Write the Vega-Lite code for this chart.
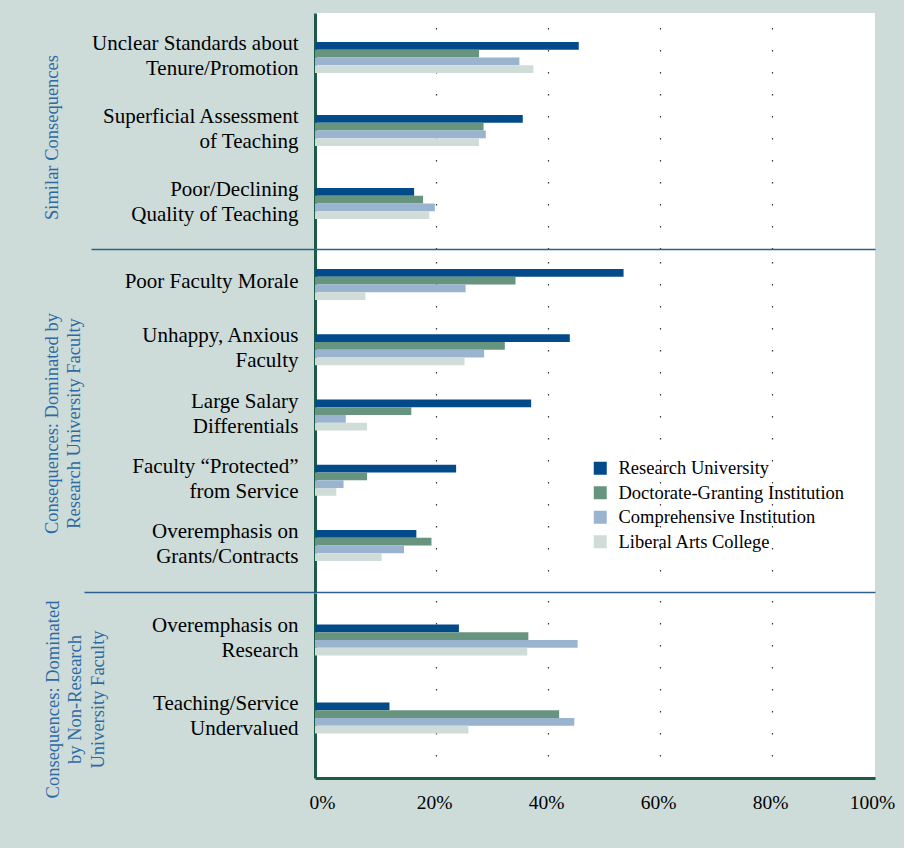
{
  "$schema": "https://vega.github.io/schema/vega-lite/v6.json",
  "background": "#cddcd9",
  "padding": {"left": 42, "top": 13, "right": 9, "bottom": 36},
  "config": {"view": {"stroke": null, "fill": "white"}, "font": "Liberation Serif"},
  "spacing": 0,
  "bounds": "flush",
  "data": {"values": [
    {"section": 1, "consequence": "Unclear Standards about\nTenure/Promotion", "type": "Research University", "pct": 47.1},
    {"section": 1, "consequence": "Unclear Standards about\nTenure/Promotion", "type": "Doctorate-Granting Institution", "pct": 29.3},
    {"section": 1, "consequence": "Unclear Standards about\nTenure/Promotion", "type": "Comprehensive Institution", "pct": 36.5},
    {"section": 1, "consequence": "Unclear Standards about\nTenure/Promotion", "type": "Liberal Arts College", "pct": 39.0},
    {"section": 1, "consequence": "Superficial Assessment\nof Teaching", "type": "Research University", "pct": 37.1},
    {"section": 1, "consequence": "Superficial Assessment\nof Teaching", "type": "Doctorate-Granting Institution", "pct": 30.1},
    {"section": 1, "consequence": "Superficial Assessment\nof Teaching", "type": "Comprehensive Institution", "pct": 30.5},
    {"section": 1, "consequence": "Superficial Assessment\nof Teaching", "type": "Liberal Arts College", "pct": 29.3},
    {"section": 1, "consequence": "Poor/Declining\nQuality of Teaching", "type": "Research University", "pct": 17.7},
    {"section": 1, "consequence": "Poor/Declining\nQuality of Teaching", "type": "Doctorate-Granting Institution", "pct": 19.3},
    {"section": 1, "consequence": "Poor/Declining\nQuality of Teaching", "type": "Comprehensive Institution", "pct": 21.4},
    {"section": 1, "consequence": "Poor/Declining\nQuality of Teaching", "type": "Liberal Arts College", "pct": 20.4},
    {"section": 2, "consequence": "Poor Faculty Morale", "type": "Research University", "pct": 55.1},
    {"section": 2, "consequence": "Poor Faculty Morale", "type": "Doctorate-Granting Institution", "pct": 35.8},
    {"section": 2, "consequence": "Poor Faculty Morale", "type": "Comprehensive Institution", "pct": 26.9},
    {"section": 2, "consequence": "Poor Faculty Morale", "type": "Liberal Arts College", "pct": 9.0},
    {"section": 2, "consequence": "Unhappy, Anxious\nFaculty", "type": "Research University", "pct": 45.5},
    {"section": 2, "consequence": "Unhappy, Anxious\nFaculty", "type": "Doctorate-Granting Institution", "pct": 33.9},
    {"section": 2, "consequence": "Unhappy, Anxious\nFaculty", "type": "Comprehensive Institution", "pct": 30.2},
    {"section": 2, "consequence": "Unhappy, Anxious\nFaculty", "type": "Liberal Arts College", "pct": 26.7},
    {"section": 2, "consequence": "Large Salary\nDifferentials", "type": "Research University", "pct": 38.6},
    {"section": 2, "consequence": "Large Salary\nDifferentials", "type": "Doctorate-Granting Institution", "pct": 17.2},
    {"section": 2, "consequence": "Large Salary\nDifferentials", "type": "Comprehensive Institution", "pct": 5.5},
    {"section": 2, "consequence": "Large Salary\nDifferentials", "type": "Liberal Arts College", "pct": 9.3},
    {"section": 2, "consequence": "Faculty “Protected”\nfrom Service", "type": "Research University", "pct": 25.2},
    {"section": 2, "consequence": "Faculty “Protected”\nfrom Service", "type": "Doctorate-Granting Institution", "pct": 9.3},
    {"section": 2, "consequence": "Faculty “Protected”\nfrom Service", "type": "Comprehensive Institution", "pct": 5.1},
    {"section": 2, "consequence": "Faculty “Protected”\nfrom Service", "type": "Liberal Arts College", "pct": 3.8},
    {"section": 2, "consequence": "Overemphasis on\nGrants/Contracts", "type": "Research University", "pct": 18.1},
    {"section": 2, "consequence": "Overemphasis on\nGrants/Contracts", "type": "Doctorate-Granting Institution", "pct": 20.8},
    {"section": 2, "consequence": "Overemphasis on\nGrants/Contracts", "type": "Comprehensive Institution", "pct": 15.9},
    {"section": 2, "consequence": "Overemphasis on\nGrants/Contracts", "type": "Liberal Arts College", "pct": 11.9},
    {"section": 3, "consequence": "Overemphasis on\nResearch", "type": "Research University", "pct": 25.7},
    {"section": 3, "consequence": "Overemphasis on\nResearch", "type": "Doctorate-Granting Institution", "pct": 38.1},
    {"section": 3, "consequence": "Overemphasis on\nResearch", "type": "Comprehensive Institution", "pct": 46.9},
    {"section": 3, "consequence": "Overemphasis on\nResearch", "type": "Liberal Arts College", "pct": 37.9},
    {"section": 3, "consequence": "Teaching/Service\nUndervalued", "type": "Research University", "pct": 13.3},
    {"section": 3, "consequence": "Teaching/Service\nUndervalued", "type": "Doctorate-Granting Institution", "pct": 43.6},
    {"section": 3, "consequence": "Teaching/Service\nUndervalued", "type": "Comprehensive Institution", "pct": 46.3},
    {"section": 3, "consequence": "Teaching/Service\nUndervalued", "type": "Liberal Arts College", "pct": 27.4}
  ]},
  "resolve": {"scale": {"y": "independent", "yOffset": "independent", "x": "independent", "color": "shared"}},
  "vconcat": [
    {
      "width": 560, "height": 236,
      "transform": [{"filter": "datum.section == 1"}],
      "mark": {"type": "bar"},
      "encoding": {
        "y": {"field": "consequence", "type": "nominal", "sort": null,
          "scale": {"paddingInner": 0.575, "paddingOuter": 0.404, "align": 0.49, "round": false},
          "axis": {"title": "Similar Consequences", "titleAngle": 270, "titleX": -258, "titleY": 124, "titleAlign": "center", "titleBaseline": "alphabetic", "titleFont": "Liberation Serif", "titleFontSize": 18.5, "titleFontWeight": "normal", "titleColor": "#2d6aa3", "titleLineHeight": 22.5,
            "labelExpr": "split(datum.label, '\\n')", "labelFont": "Liberation Serif", "labelFontSize": 21, "labelLineHeight": 25, "labelColor": "black", "labelLimit": 0, "labelPadding": 17,
            "labelOffset": {"condition": {"test": "indexof(datum.value, '\\n') >= 0", "value": -13.5}, "value": -3},
            "ticks": false, "domainColor": "#1d5a47", "domainWidth": 3, "grid": false}},
        "yOffset": {"field": "type", "scale": {"domain": ["Research University", "Doctorate-Granting Institution", "Comprehensive Institution", "Liberal Arts College"], "paddingInner": 0, "paddingOuter": 0}},
        "x": {"field": "pct", "type": "quantitative", "scale": {"domain": [0, 100], "nice": false},
          "axis": {"title": null, "labels": false, "ticks": false, "domain": false, "grid": true, "values": [20, 40, 60, 80], "tickOffset": 9, "gridColor": "#333", "gridDash": [1.5, 20.5], "gridWidth": 1.2}},
        "color": {"field": "type", "type": "nominal",
          "scale": {"domain": ["Research University", "Doctorate-Granting Institution", "Comprehensive Institution", "Liberal Arts College"], "range": ["#024a8a", "#67947f", "#9ab4d0", "#cfdcd8"]},
          "legend": {"orient": "none", "legendX": 276, "legendY": 446, "title": null, "symbolType": "square", "symbolSize": 169, "symbolStrokeWidth": 0, "symbolOpacity": 1, "labelFont": "Liberation Serif", "labelFontSize": 18.5, "labelColor": "black", "rowPadding": 5.5, "labelOffset": 9, "labelLimit": 0}}
      }
    },
    {
      "width": 560, "height": 344,
      "transform": [{"filter": "datum.section == 2"}],
      "mark": {"type": "bar"},
      "encoding": {
        "y": {"field": "consequence", "type": "nominal", "sort": null,
          "scale": {"paddingInner": 0.525, "paddingOuter": 0.398, "align": 0.385, "round": false},
          "axis": {"title": ["Consequences: Dominated by", "Research University Faculty"], "titleAngle": 270, "titleX": -258, "titleY": 174, "titleAlign": "center", "titleBaseline": "alphabetic", "titleFont": "Liberation Serif", "titleFontSize": 18.5, "titleFontWeight": "normal", "titleColor": "#2d6aa3", "titleLineHeight": 22.5,
            "labelExpr": "split(datum.label, '\\n')", "labelFont": "Liberation Serif", "labelFontSize": 21, "labelLineHeight": 25, "labelColor": "black", "labelLimit": 0, "labelPadding": -207,
            "labelOffset": {"condition": {"test": "indexof(datum.value, '\\n') >= 0", "value": -13.5}, "value": -3},
            "ticks": true, "tickSize": 224, "tickWidth": 1.3, "bandPosition": -0.645,
            "tickColor": {"condition": {"test": "indexof(datum.value, 'Poor Faculty') == 0", "value": "#2b6190"}, "value": "transparent"},
            "grid": true, "gridWidth": 1.3,
            "gridColor": {"condition": {"test": "indexof(datum.value, 'Poor Faculty') == 0", "value": "#2b6190"}, "value": "transparent"},
            "domainColor": "#1d5a47", "domainWidth": 3}},
        "yOffset": {"field": "type", "scale": {"domain": ["Research University", "Doctorate-Granting Institution", "Comprehensive Institution", "Liberal Arts College"], "paddingInner": 0, "paddingOuter": 0}},
        "x": {"field": "pct", "type": "quantitative", "scale": {"domain": [0, 100], "nice": false},
          "axis": {"title": null, "labels": false, "ticks": false, "domain": false, "grid": true, "values": [20, 40, 60, 80], "tickOffset": 9, "gridColor": "#333", "gridDash": [1.5, 20.5], "gridWidth": 1.2}},
        "color": {"field": "type", "type": "nominal",
          "scale": {"domain": ["Research University", "Doctorate-Granting Institution", "Comprehensive Institution", "Liberal Arts College"], "range": ["#024a8a", "#67947f", "#9ab4d0", "#cfdcd8"]},
          "legend": {"orient": "none", "legendX": 276, "legendY": 446, "title": null, "symbolType": "square", "symbolSize": 169, "symbolStrokeWidth": 0, "symbolOpacity": 1, "labelFont": "Liberation Serif", "labelFontSize": 18.5, "labelColor": "black", "rowPadding": 5.5, "labelOffset": 9, "labelLimit": 0}}
      }
    },
    {
      "width": 560, "height": 185,
      "transform": [{"filter": "datum.section == 3"}],
      "mark": {"type": "bar"},
      "encoding": {
        "y": {"field": "consequence", "type": "nominal", "sort": null,
          "scale": {"paddingInner": 0.6026, "paddingOuter": 0.487, "align": 0.414, "round": false},
          "axis": {"title": ["Consequences: Dominated", "by Non-Research", "University Faculty"], "titleAngle": 270, "titleX": -257, "titleY": 106, "titleAlign": "center", "titleBaseline": "alphabetic", "titleFont": "Liberation Serif", "titleFontSize": 18.5, "titleFontWeight": "normal", "titleColor": "#2d6aa3", "titleLineHeight": 22.5,
            "labelExpr": "split(datum.label, '\\n')", "labelFont": "Liberation Serif", "labelFontSize": 21, "labelLineHeight": 25, "labelColor": "black", "labelLimit": 0, "labelPadding": -214,
            "labelOffset": {"condition": {"test": "indexof(datum.value, '\\n') >= 0", "value": -13.5}, "value": -3},
            "ticks": true, "tickSize": 231, "tickWidth": 1.3, "bandPosition": -1.015,
            "tickColor": {"condition": {"test": "indexof(datum.value, 'Overemphasis on\\nResearch') == 0", "value": "#2b6190"}, "value": "transparent"},
            "grid": true, "gridWidth": 1.3,
            "gridColor": {"condition": {"test": "indexof(datum.value, 'Overemphasis on\\nResearch') == 0", "value": "#2b6190"}, "value": "transparent"},
            "domainColor": "#1d5a47", "domainWidth": 3}},
        "yOffset": {"field": "type", "scale": {"domain": ["Research University", "Doctorate-Granting Institution", "Comprehensive Institution", "Liberal Arts College"], "paddingInner": 0, "paddingOuter": 0}},
        "x": {"field": "pct", "type": "quantitative", "scale": {"domain": [0, 100], "nice": false},
          "axis": {"title": null, "values": [0, 20, 40, 60, 80, 100], "labelExpr": "datum.value + '%'", "ticks": false, "domain": true, "domainColor": "#1d5a47", "domainWidth": 3, "tickOffset": 9,
            "grid": true, "gridColor": {"condition": {"test": "datum.value > 0 && datum.value < 100", "value": "#333"}, "value": "transparent"}, "gridDash": [1.5, 20.5], "gridWidth": 1.2,
            "labelFont": "Liberation Serif", "labelFontSize": 19.5, "labelColor": "black", "labelPadding": 15, "labelFlush": false, "labelBound": false,
            "labelOffset": {"condition": {"test": "datum.value == 100", "value": -12}, "value": -2}}},
        "color": {"field": "type", "type": "nominal",
          "scale": {"domain": ["Research University", "Doctorate-Granting Institution", "Comprehensive Institution", "Liberal Arts College"], "range": ["#024a8a", "#67947f", "#9ab4d0", "#cfdcd8"]},
          "legend": {"orient": "none", "legendX": 276, "legendY": 446, "title": null, "symbolType": "square", "symbolSize": 169, "symbolStrokeWidth": 0, "symbolOpacity": 1, "labelFont": "Liberation Serif", "labelFontSize": 18.5, "labelColor": "black", "rowPadding": 5.5, "labelOffset": 9, "labelLimit": 0}}
      }
    }
  ]
}
